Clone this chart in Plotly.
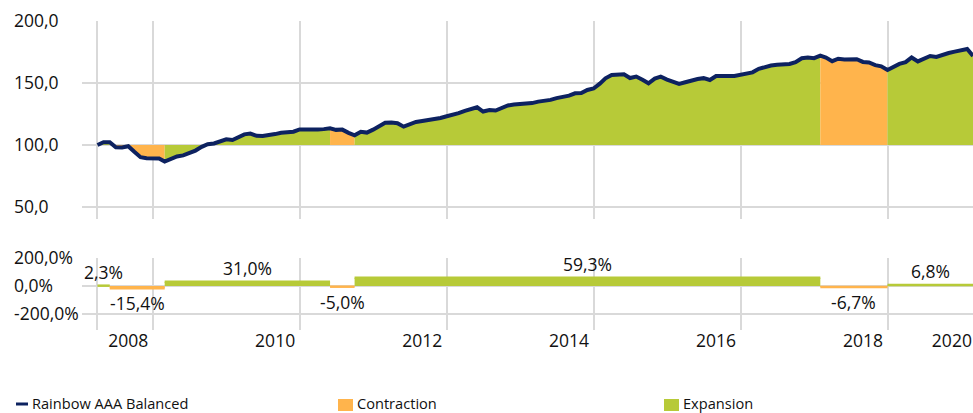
import pandas as pd
import plotly.graph_objects as go

# ---------------- data ----------------
start_month = "2008-04-01"
index_values = [
    100.0, 102.2, 102.3, 98.1, 98.0, 99.0, 94.5, 90.2, 89.4, 89.2,
    89.1, 86.6, 89.0, 90.8, 91.6, 93.3, 95.5, 98.5, 100.6, 101.2,
    102.5, 104.6, 104.0, 106.0, 108.6, 109.2, 107.4, 107.2, 107.8, 108.8,
    109.8, 110.3, 110.7, 112.6, 112.4, 113.0, 112.5, 112.8, 113.4, 112.2,
    112.4, 109.8, 107.8, 110.7, 110.0, 112.4, 115.6, 117.9, 118.2, 117.6,
    114.8, 116.4, 118.6, 119.4, 120.0, 120.6, 121.8, 123.2, 124.3, 125.7,
    127.6, 129.2, 130.4, 127.0, 128.2, 127.8, 129.6, 131.9, 132.6, 133.0,
    133.2, 133.8, 135.0, 135.4, 136.4, 137.8, 138.6, 139.8, 141.7, 141.9,
    144.4, 145.6, 149.5, 153.8, 156.5, 157.0, 157.0, 154.0, 155.2, 152.6,
    149.8, 153.5, 155.1, 152.8, 150.6, 149.2, 150.6, 152.0, 153.2, 153.9,
    152.4, 155.6, 155.9, 155.7, 155.6, 156.8, 158.3, 158.6, 161.4, 163.0,
    164.1, 164.8, 165.2, 165.3, 166.8, 170.0, 170.6, 170.0, 172.0, 170.5,
    167.6, 169.6, 169.0, 168.8, 169.2, 167.0, 166.6, 164.4, 163.4, 160.5,
    163.0, 165.4, 166.8, 170.6, 167.4, 169.6, 171.8, 171.0, 172.8, 174.2,
    175.3, 176.6, 177.4, 171.8,
]
regime_bounds = [0, 2, 11, 38, 42, 118, 129, 143]          # month indices
regime_kinds = ["Expansion", "Contraction", "Expansion", "Contraction",
                "Expansion", "Contraction", "Expansion"]
regime_returns = [2.3, -15.4, 31.0, -5.0, 59.3, -6.7, 6.8]  # percent

y1_ticks = [50, 100, 150, 200]
y1_ticklabels = ["50,0", "100,0", "150,0", "200,0"]
y2_ticks = [-200, 0, 200]
y2_ticklabels = ["-200,0%", "0,0%", "200,0%"]
year_label_dates = ["2008-09-01", "2010-09-01", "2012-09-01", "2014-09-01",
                    "2016-09-01", "2018-09-01", "2019-11-17"]
year_labels = ["2008", "2010", "2012", "2014", "2016", "2018", "2020"]
grid_dates = ["2008-04-01", "2009-01-01", "2011-01-01", "2013-01-01",
              "2015-01-01", "2017-01-01", "2019-01-01"]

series_name = "Rainbow AAA Balanced"

# ---------------- style ----------------
W, H = 973, 413
NAVY = "#0D2260"
COLORS = {"Contraction": "#FFB44C", "Expansion": "#B7CA38"}
GRID = "#D9D9D9"
TXT = "#111111"
FONT = "Open Sans"

months = pd.date_range(start_month, periods=len(index_values), freq="MS")
x_range = ["2008-01-15", "2020-03-01"]


def px_x(p):
    return p / W


def px_y(p):
    return 1 - p / H


fig = go.Figure()

# top panel: regime fills between 100 and the index line
for k, kind in enumerate(regime_kinds):
    a, b = regime_bounds[k], regime_bounds[k + 1]
    xs = list(months[a:b + 1])
    ys = index_values[a:b + 1]
    fig.add_trace(go.Scatter(
        x=xs + xs[::-1], y=ys + [100] * len(xs),
        fill="toself", fillcolor=COLORS[kind], mode="lines",
        line=dict(width=0, color=COLORS[kind]), hoverinfo="skip",
        showlegend=False, xaxis="x", yaxis="y"))

fig.add_trace(go.Scatter(
    x=months, y=index_values, mode="lines", name=series_name,
    line=dict(color=NAVY, width=4), showlegend=False, xaxis="x", yaxis="y"))

# bottom panel: regime returns
annotations = []
for k, kind in enumerate(regime_kinds):
    a, b = regime_bounds[k], regime_bounds[k + 1]
    r = regime_returns[k]
    fig.add_trace(go.Scatter(
        x=[months[a], months[b]], y=[r, r], mode="lines", fill="tozeroy",
        fillcolor=COLORS[kind], line=dict(color=COLORS[kind], width=2.5),
        showlegend=False, hoverinfo="skip", xaxis="x2", yaxis="y2"))
    mid = months[a] + (months[b] - months[a]) / 2
    txt = f"{r:.1f}%".replace(".", ",")
    annotations.append(dict(
        x=mid, y=r, xref="x2", yref="y2", text=txt, showarrow=False,
        yanchor="bottom" if r >= 0 else "top",
        yshift=0 if r >= 0 else -1,
        font=dict(family=FONT, size=17.5, color=TXT)))

# custom legend
legend_items = [(series_name, "line", NAVY, 16, 30),
                ("Contraction", "box", COLORS["Contraction"], 338, 355),
                ("Expansion", "box", COLORS["Expansion"], 664, 681)]
shapes = []
for name, kind, col, sx, tx in legend_items:
    if kind == "line":
        shapes.append(dict(type="line", xref="paper", yref="paper",
                           x0=px_x(sx), x1=px_x(sx + 12), y0=px_y(404), y1=px_y(404),
                           line=dict(color=col, width=3)))
    else:
        shapes.append(dict(type="rect", xref="paper", yref="paper",
                           x0=px_x(sx), x1=px_x(sx + 15), y0=px_y(399), y1=px_y(411),
                           line=dict(width=0), fillcolor=col))
    annotations.append(dict(x=px_x(tx), y=px_y(403), xref="paper", yref="paper",
                            xanchor="left", yanchor="middle", text=name,
                            showarrow=False,
                            font=dict(family=FONT, size=14.6, color=TXT)))

xdom = [82 / W, 1]
common_x = dict(domain=xdom, type="date", range=x_range, showline=False,
                zeroline=False, showgrid=False, automargin=False, ticks="",
                minor=dict(tickmode="array", tickvals=grid_dates, showgrid=True,
                           gridcolor=GRID, gridwidth=2, ticks=""))
common_y = dict(anchor="free", position=10 / W, ticklabelposition="inside",
                ticklabeloverflow="allow", showline=False, zeroline=False,
                gridcolor=GRID, gridwidth=2, automargin=False, ticks="",
                tickfont=dict(family=FONT, size=17.5, color=TXT))

fig.update_layout(
    width=W, height=H,
    margin=dict(l=0, r=0, t=0, b=0),
    paper_bgcolor="white", plot_bgcolor="white",
    showlegend=False,
    xaxis=dict(anchor="y", showticklabels=False, **common_x),
    yaxis=dict(domain=[1 - 219.4 / H, 1 - 21 / H], range=[40, 200],
               tickmode="array", tickvals=y1_ticks, ticktext=y1_ticklabels,
               **common_y),
    xaxis2=dict(anchor="y2", tickmode="array", tickvals=year_label_dates,
                ticktext=year_labels, ticklabelstandoff=-2,
                tickfont=dict(family=FONT, size=17.5, color=TXT), **common_x),
    yaxis2=dict(domain=[1 - 330 / H, 1 - 258 / H], range=[-314.3, 200],
                tickmode="array", tickvals=y2_ticks, ticktext=y2_ticklabels,
                **common_y),
    annotations=annotations,
    shapes=shapes,
)

fig.write_html("out.html",
               config={"displayModeBar": False},
               post_script="document.body.style.margin='0';"
                           "document.body.style.overflow='hidden';")
